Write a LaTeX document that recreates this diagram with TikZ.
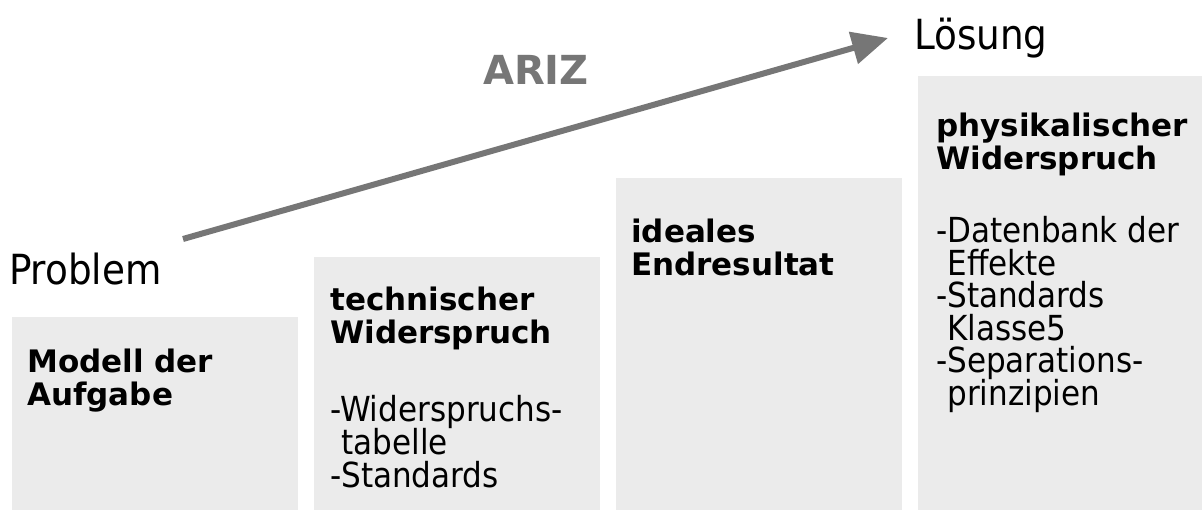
\documentclass[tikz,border=0pt]{standalone}
\usepackage{fontspec}
\setmainfont{DejaVu Sans Condensed}
\newfontfamily\headfont{DejaVu Sans}
\usetikzlibrary{arrows.meta}
\definecolor{boxgray}{HTML}{EBEBEB}
\definecolor{arrowgray}{HTML}{767676}
\tikzset{
  stage/.style={fill=boxgray, draw=none},
  line/.style={anchor=base west, inner sep=0pt, font=\fontsize{34.5}{36}\selectfont},
  head/.style={anchor=base west, inner sep=0pt, font=\headfont\fontsize{31}{34}\selectfont\bfseries},
  endlabel/.style={anchor=base west, inner sep=0pt, font=\fontsize{41.5}{44}\selectfont},
}
\begin{document}
\begin{tikzpicture}[x=1pt, y=-1pt]
\useasboundingbox (0,0) rectangle (1202,510);
% stairs
\fill[stage] (12,317) rectangle (298,510);
\fill[stage] (314,257) rectangle (600,510);
\fill[stage] (616,178) rectangle (902,510);
\fill[stage] (918,76) rectangle (1202,510);
% end labels
\node[endlabel] (problem) at (9,285) {Problem};
\node[endlabel] (loesung) at (914,50) {Lösung};
% ARIZ arrow
\coordinate (astart) at (183,239);
\coordinate (aend) at (888,38);
\draw[arrowgray, line width=6pt, -{Triangle[length=36pt,width=32pt]}] (astart) -- (aend);
\node[anchor=base west, inner sep=0pt, text=arrowgray, font=\headfont\fontsize{40}{42}\selectfont\bfseries] (ariz) at (483,85) {ARIZ};
% stage 1
\node[head] (m1) at (27,373) {Modell der};
\node[head] (m2) at (27,406) {Aufgabe};
% stage 2
\node[head] (t1) at (330,311) {technischer};
\node[head] (t2) at (330,344) {Widerspruch};
\node[line] (t3) at (330,421) {-Widerspruchs-};
\node[line] (t4) at (330,454) {\hphantom{-}tabelle};
\node[line] (t5) at (330,487) {-Standards};
% stage 3
\node[head] (i1) at (631,243) {ideales};
\node[head] (i2) at (631,276) {Endresultat};
% stage 4
\node[head] (p1) at (936,137) {physikalischer};
\node[head] (p2) at (936,170) {Widerspruch};
\node[line] (p3) at (936,243) {-Datenbank der};
\node[line] (p4) at (936,276) {\hphantom{-}Effekte};
\node[line] (p5) at (936,308) {-Standards};
\node[line] (p6) at (936,341) {\hphantom{-}Klasse5};
\node[line] (p7) at (936,373) {-Separations-};
\node[line] (p8) at (936,406) {\hphantom{-}prinzipien};
\end{tikzpicture}
\end{document}
